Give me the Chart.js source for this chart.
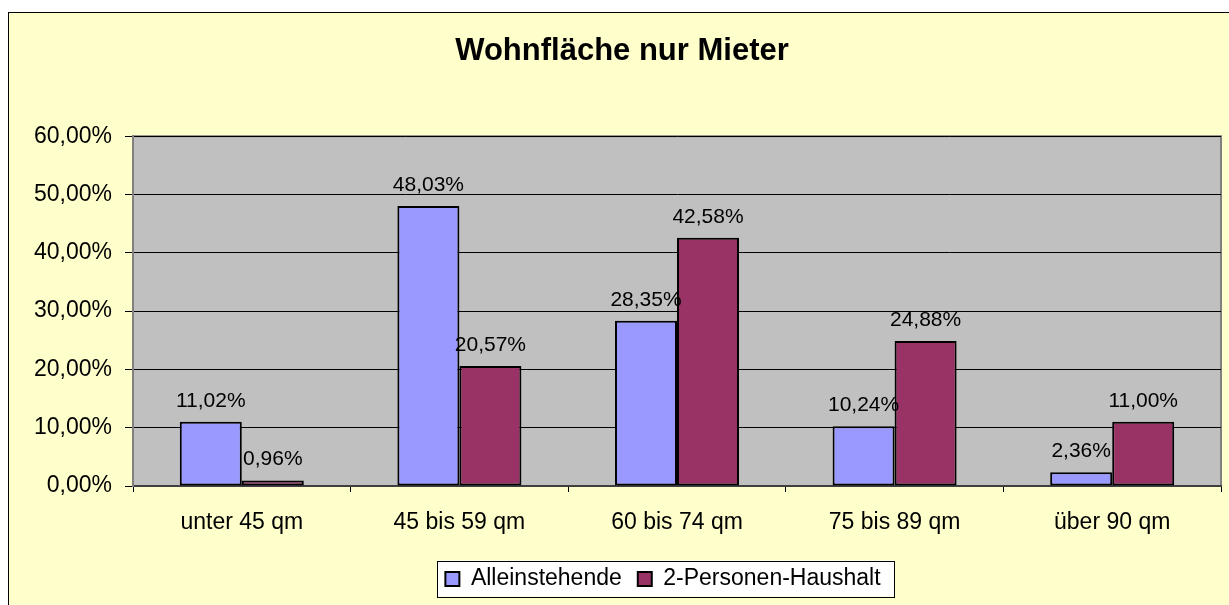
<!DOCTYPE html>
<html>
<head>
<meta charset="utf-8">
<script src="https://cdn.jsdelivr.net/npm/chart.js@4/dist/chart.umd.min.js"></script>
<style>
  html, body { margin: 0; padding: 0; overflow: hidden; background: #fff; }
  #wrap {
    position: absolute; left: 8px; top: 12px;
    width: 1230px; height: 600px;
    border: 1px solid #000;
    background: #FFFFCC;
  }
</style>
</head>
<body>
<div id="wrap"><canvas id="chart" width="1230" height="600"></canvas></div>
<script>
const categories = ["unter 45 qm", "45 bis 59 qm", "60 bis 74 qm", "75 bis 89 qm", "über 90 qm"];
const alleinstehende = [11.02, 48.03, 28.35, 10.24, 2.36];
const zweiPersonen = [0.96, 20.57, 42.58, 24.88, 11.00];
const yMin = 0;
const yMax = 60;
const yStep = 10;

const fmt = (v) => v.toFixed(2).replace(".", ",") + "%";
const FONT = "'Liberation Sans', Arial, sans-serif";

// legend and title sit a bit right of centre in the original
const shiftBoxes = {
  id: "shiftBoxes",
  afterUpdate(chart) {
    const lg = chart.legend;
    lg.left += 48;
    lg.right += 48;
    const t = chart.titleBlock;
    t.left += 7;
    t.right += 7;
  }
};

// grey plot area + legend frame
const backdrop = {
  id: "backdrop",
  beforeDraw(chart) {
    const { ctx, chartArea: a } = chart;
    ctx.save();
    ctx.fillStyle = "#C0C0C0";
    ctx.fillRect(a.left, a.top, a.right - a.left, a.bottom - a.top);
    ctx.strokeStyle = "#808080";
    ctx.lineWidth = 2;
    ctx.strokeRect(a.left, a.top, a.right - a.left, a.bottom - a.top);

    const lg = chart.legend;
    const pad = lg.options.labels.padding;
    const itemH = lg.options.labels.font.size;
    const start = (lg.left + pad + lg.right - lg.lineWidths[0]) / 2;
    const x0 = start - 8;
    const x1 = start + lg.lineWidths[0] - pad + 14;
    const y0 = lg.top + pad - 7;
    const y1 = lg.top + pad + itemH + 6;
    ctx.fillStyle = "#FFFFFF";
    ctx.fillRect(x0, y0, x1 - x0, y1 - y0);
    ctx.strokeStyle = "#000";
    ctx.lineWidth = 1;
    ctx.strokeRect(Math.round(x0) + 0.5, Math.round(y0) + 0.5, Math.round(x1 - x0), Math.round(y1 - y0));
    ctx.restore();
  }
};

// value labels above bars
const valueLabels = {
  id: "valueLabels",
  afterDatasetsDraw(chart) {
    const { ctx } = chart;
    ctx.save();
    ctx.font = "21px " + FONT;
    ctx.fillStyle = "#000";
    ctx.textAlign = "center";
    ctx.textBaseline = "alphabetic";
    chart.data.datasets.forEach((ds, i) => {
      chart.getDatasetMeta(i).data.forEach((bar, j) => {
        ctx.fillText(fmt(ds.data[j]), bar.x, bar.y - 15);
      });
    });
    ctx.restore();
  }
};

new Chart(document.getElementById("chart"), {
  type: "bar",
  data: {
    labels: categories,
    datasets: [
      {
        label: "Alleinstehende",
        data: alleinstehende,
        backgroundColor: "#9999FF",
        borderColor: "#000",
        borderWidth: 2,
        borderSkipped: false,
      },
      {
        label: "2-Personen-Haushalt",
        data: zweiPersonen,
        backgroundColor: "#993366",
        borderColor: "#000",
        borderWidth: 2,
        borderSkipped: false,
      },
    ],
  },
  options: {
    responsive: false,
    animation: false,
    layout: { padding: { left: 0, right: 18, top: 0, bottom: 12.5 } },
    datasets: { bar: { categoryPercentage: 0.57, barPercentage: 1.0 } },
    scales: {
      x: {
        grid: {
          offset: true,
          drawOnChartArea: false,
          color: "#000",
          tickLength: 6,
        },
        border: { color: "#404040", width: 2 },
        ticks: { color: "#000", font: { family: FONT, size: 23 }, padding: 17 },
        afterFit(scale) { scale.height = 65.5; },
      },
      y: {
        min: yMin,
        max: yMax,
        grid: { color: "#000", lineWidth: 1, tickLength: 8 },
        border: { color: "#808080", width: 2 },
        ticks: {
          stepSize: yStep,
          color: "#000",
          padding: 13,
          font: { family: FONT, size: 23 },
          callback: (v) => fmt(v),
        },
        afterFit(scale) { scale.width = 124; },
      },
    },
    plugins: {
      title: {
        display: true,
        text: "Wohnfläche nur Mieter",
        color: "#000",
        font: { family: FONT, size: 31, weight: "bold" },
        padding: { top: 20, bottom: 66 },
      },
      legend: {
        position: "bottom",
        labels: {
          color: "#000",
          font: { family: FONT, size: 23 },
          boxWidth: 14,
          boxHeight: 14,
          padding: 16,
        },
      },
      tooltip: { enabled: false },
    },
  },
  plugins: [shiftBoxes, backdrop, valueLabels],
});
</script>
</body>
</html>
